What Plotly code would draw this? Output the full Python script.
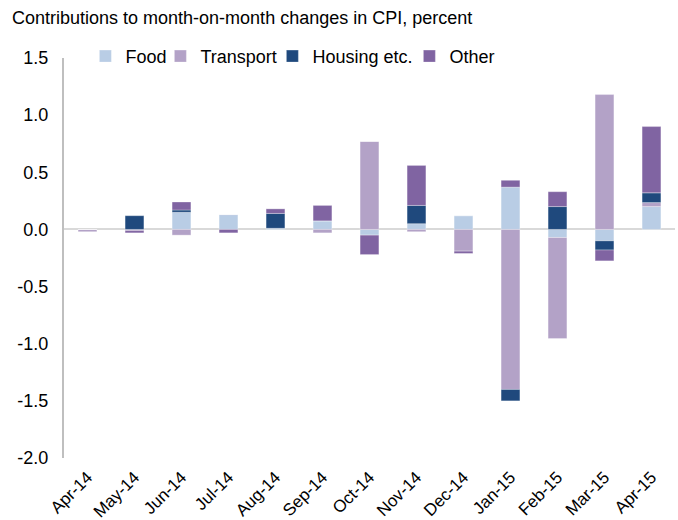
import plotly.graph_objects as go

months = ["Apr-14", "May-14", "Jun-14", "Jul-14", "Aug-14", "Sep-14", "Oct-14",
          "Nov-14", "Dec-14", "Jan-15", "Feb-15", "Mar-15", "Apr-15"]
food = [0.0, 0.0, 0.15, 0.13, 0.01, 0.075, -0.05, 0.05, 0.12, 0.37, -0.07, -0.10, 0.20]
transport = [-0.02, -0.01, -0.05, 0.0, 0.0, -0.03, 0.77, -0.02, -0.19, -1.40, -0.885, 1.18, 0.035]
housing = [0.0, 0.12, 0.02, 0.0, 0.13, 0.0, 0.0, 0.16, 0.0, -0.10, 0.20, -0.08, 0.085]
other = [0.0, -0.02, 0.07, -0.03, 0.04, 0.135, -0.17, 0.35, -0.02, 0.06, 0.13, -0.095, 0.58]

y_tick_values = [-2.0, -1.5, -1.0, -0.5, 0.0, 0.5, 1.0, 1.5]
y_tick_labels = ["-2.0", "-1.5", "-1.0", "-0.5", "0.0", "0.5", "1.0", "1.5"]

series = [("Food", food, "#b9cde5", 30), ("Transport", transport, "#b3a2c7", 67),
          ("Housing etc.", housing, "#1f497d", 92), ("Other", other, "#8064a2", None)]

font = "Liberation Sans, Arial, sans-serif"
fig = go.Figure()
for name, vals, col, lw in series:
    kw = {}
    if lw:
        kw["legendwidth"] = lw
    fig.add_trace(go.Bar(x=months, y=vals, name=name, marker_color=col,
                         marker_line_color="rgba(255,255,255,0.6)", marker_line_width=0.5,
                         **kw))

fig.update_layout(
    barmode="relative", bargap=0.6,
    width=678, height=520,
    margin=dict(l=64, r=3, t=58, b=62, autoexpand=False),
    plot_bgcolor="white", paper_bgcolor="white",
    font=dict(family=font, size=18, color="black"),
    showlegend=True,
    legend=dict(orientation="h", x=0.035, y=1.004, xanchor="left", yanchor="middle",
                font=dict(size=18), bgcolor="rgba(0,0,0,0)", traceorder="normal",
                itemwidth=30, borderwidth=0),
    title=dict(text="Contributions to month-on-month changes in CPI, percent",
               x=12 / 678, xanchor="left", xref="container",
               y=1 - 18 / 520, yanchor="middle", yref="container",
               font=dict(size=18), pad=dict(l=0, r=0, t=0, b=0)),
)
fig.update_yaxes(range=[-2.0, 1.5], tickvals=y_tick_values, ticktext=y_tick_labels,
                 showgrid=False, automargin=False,
                 showline=True, linecolor="#bfbfbf", linewidth=2, ticks="",
                 zeroline=True, zerolinecolor="#d9d9d9", zerolinewidth=2,
                 ticklabelstandoff=10, tickfont=dict(size=18))
fig.update_xaxes(tickangle=-45, showgrid=False, showline=False, ticks="",
                 automargin=False, ticklabelstandoff=5,
                 tickfont=dict(size=17))

fig.write_html("out.html", config={"displayModeBar": False},
               post_script="document.body.style.margin='0';document.body.style.overflow='hidden';")
